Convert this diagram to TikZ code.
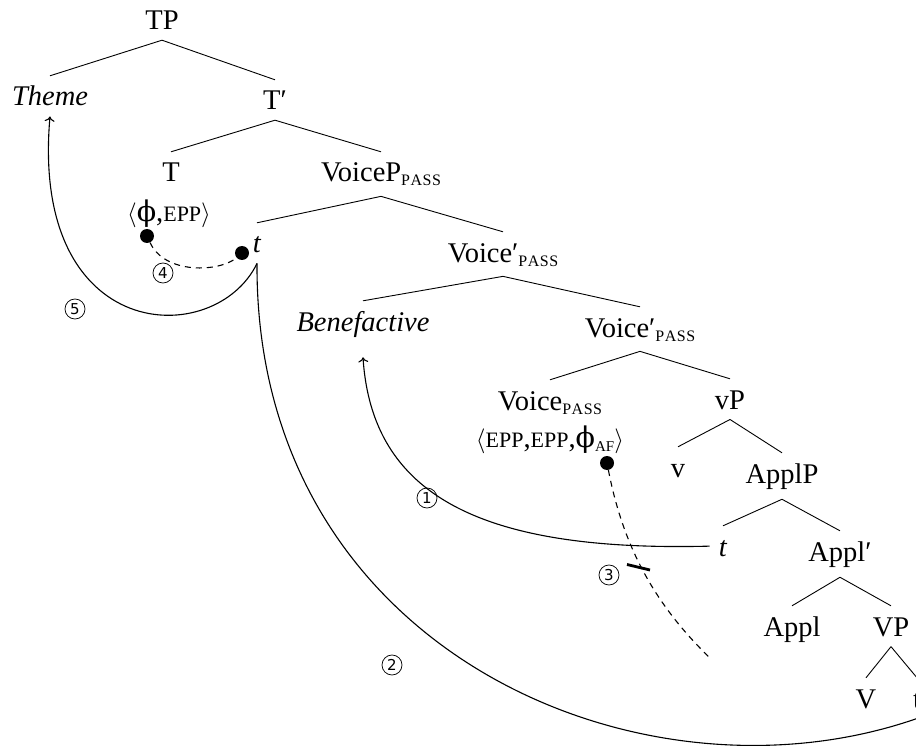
\documentclass[tikz,border=0pt]{standalone}
\usepackage{fontspec}
\usetikzlibrary{arrows.meta}
\setmainfont{Liberation Serif}
\newfontfamily\circfont{DejaVu Sans}
\newfontfamily\phifont{DejaVu Serif}
\newcommand{\scx}[2]{{\fontsize{#1}{#1}\selectfont #2}}
\newcommand{\pass}{\raisebox{-4pt}{\scx{16}{P\kern0.5pt A\kern0.5pt S\kern0.5pt S}}}
\newcommand{\myphi}{{\phifont ϕ}}
\begin{document}
\begin{tikzpicture}[x=1pt,y=-1pt,
  lab/.style={anchor=base, inner xsep=3pt, inner ysep=10pt, text height=20pt, font=\fontsize{28.5}{30}\selectfont},
  feat/.style={anchor=base, inner sep=0pt, font=\fontsize{28.5}{30}\selectfont},
  edge/.style={line width=0.9pt},
  mv/.style={line width=1.1pt},
  tip/.style={-{To[length=5pt,width=10pt]}},
  dot/.style={circle, fill=black, inner sep=0pt, minimum size=14pt},
  num/.style={circle, draw, line width=0.75pt, inner sep=0pt, minimum size=20pt, font=\circfont\fontsize{15}{15}\selectfont}
]
\useasboundingbox (0,0) rectangle (916,746);
% tree nodes
\node[lab] (TP) at (162,30) {TP};
\node[lab] (Theme) at (50,106) {\textit{Theme}};
\node[lab] (Tp) at (275,110) {T′};
\node[lab] (T) at (171,182) {T};
\node[lab] (VoiceP) at (381,182) {VoiceP\pass};
\node[lab] (tV) at (257,253) {\textit{t}};
\node[lab] (Voice1) at (503,262) {Voice′\pass};
\node[lab] (Bene) at (363,331) {\textit{Benefactive}};
\node[lab] (Voice2) at (640,337) {Voice′\pass};
\node[lab] (VoiceH) at (550,410) {Voice\pass};
\node[lab] (vP) at (730,409) {vP};
\node[lab] (v) at (678,477) {v};
\node[lab] (ApplP) at (782,483) {ApplP};
\node[lab] (tA) at (723,556) {\textit{t}};
\node[lab] (Applp) at (840,561) {Appl′};
\node[lab] (Appl) at (792,636) {Appl};
\node[lab] (VP) at (891,636) {VP};
\node[lab] (V) at (866,708) {V};
\node[lab] (t2) at (917,708) {t};
% feature bundles
\node[feat] (F1) at (169,222) {$\langle$\myphi,\scx{22}{EPP}$\rangle$};
\node[feat] (F2) at (550,447) {$\langle$\scx{22}{EPP},\scx{22}{EPP},\myphi\raisebox{-4pt}{\scx{15}{AF}}$\rangle$};
% edges
\foreach \p/\c in {TP/Theme,TP/Tp,Tp/T,Tp/VoiceP,VoiceP/tV,VoiceP/Voice1,Voice1/Bene,Voice1/Voice2,
  Voice2/VoiceH,Voice2/vP,vP/v,vP/ApplP,ApplP/tA,ApplP/Applp,Applp/Appl,Applp/VP,VP/V,VP/t2}
  \draw[edge] (\p.south) -- (\c.north);
% dots
\node[dot] (d1) at (147,236) {};
\node[dot] (d2) at (242,253) {};
\node[dot] (d3) at (607,463) {};
\coordinate (e3) at (710,658);
% agree relations
\draw[mv, dash pattern=on 6pt off 5pt] (d1) .. controls (165,275) and (220,272) .. (d2);
\draw[mv, dash pattern=on 6pt off 5pt] (d3) .. controls (622,540) and (650,600) .. (e3);
\draw[line width=2.8pt] (627,564.5) -- (650,570);
% movement arcs
\draw[mv,tip] ([xshift=-6pt]tA.west) .. controls (480,552) and (372,495) .. ([yshift=-10pt]Bene.south);
\draw[mv] (tV.south) .. controls (255,650) and (640,815) .. (t2.south);
\draw[mv,tip] (tV.south) .. controls (215,350) and (30,345) .. (Theme.south);
% numbers
\node[num] (n1) at (427,498) {1};
\node[num] (n2) at (392,665) {2};
\node[num] (n3) at (609,575) {3};
\node[num] (n4) at (163,273) {4};
\node[num] (n5) at (75,309) {5};
\end{tikzpicture}
\end{document}
